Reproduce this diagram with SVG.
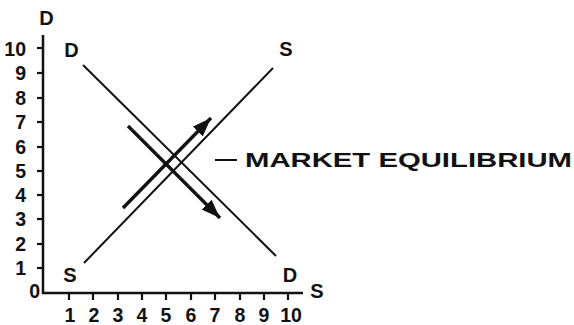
<svg xmlns="http://www.w3.org/2000/svg" width="574" height="325" viewBox="0 0 574 325">
<style>
.t{font-family:"Liberation Sans",Arial,sans-serif;font-weight:bold;fill:#111;font-size:20px}
.n{font-family:"Liberation Sans",Arial,sans-serif;font-weight:bold;fill:#111;font-size:19.5px}
.ax{stroke:#111;stroke-width:2.5;fill:none}
.tk{stroke:#111;stroke-width:2.2}
.ln{stroke:#111;stroke-width:2;fill:none}
.ar{stroke:#111;stroke-width:3.4;fill:none}
</style>
<defs>
<marker id="ah" markerUnits="userSpaceOnUse" markerWidth="22" markerHeight="16" refX="19" refY="7" orient="auto">
<path d="M0,0 L19,7 L0,14 Z" fill="#111"/>
</marker>
</defs>
<rect width="574" height="325" fill="#fff"/>
<g id="axes">
<path class="ax" d="M43,35 V293 H303"/>
<g class="tk">
<line x1="37" y1="48" x2="43" y2="48"/><line x1="37" y1="73" x2="43" y2="73"/>
<line x1="37" y1="98" x2="43" y2="98"/><line x1="37" y1="122" x2="43" y2="122"/>
<line x1="37" y1="147" x2="43" y2="147"/><line x1="37" y1="171" x2="43" y2="171"/>
<line x1="37" y1="195" x2="43" y2="195"/><line x1="37" y1="219" x2="43" y2="219"/>
<line x1="37" y1="244" x2="43" y2="244"/><line x1="37" y1="268" x2="43" y2="268"/>
<line x1="69" y1="293" x2="69" y2="300"/><line x1="93" y1="293" x2="93" y2="300"/>
<line x1="118" y1="293" x2="118" y2="300"/><line x1="142" y1="293" x2="142" y2="300"/>
<line x1="166" y1="293" x2="166" y2="300"/><line x1="191" y1="293" x2="191" y2="300"/>
<line x1="215" y1="293" x2="215" y2="300"/><line x1="240" y1="293" x2="240" y2="300"/>
<line x1="264" y1="293" x2="264" y2="300"/><line x1="288" y1="293" x2="288" y2="300"/>
</g>
<g class="n" text-anchor="end">
<text x="26" y="56">10</text><text x="26" y="80">9</text><text x="26" y="105">8</text>
<text x="26" y="129">7</text><text x="26" y="154">6</text><text x="26" y="178">5</text>
<text x="26" y="202">4</text><text x="26" y="226">3</text><text x="26" y="251">2</text>
<text x="26" y="275">1</text><text x="40" y="298">0</text>
</g>
<g class="n" text-anchor="middle">
<text x="70" y="322">1</text><text x="94" y="322">2</text><text x="118" y="322">3</text>
<text x="142" y="322">4</text><text x="166" y="322">5</text><text x="191" y="322">6</text>
<text x="215" y="322">7</text><text x="240" y="322">8</text><text x="264" y="322">9</text>
<text x="291" y="322">10</text>
</g>
<text class="t" x="46.5" y="25" text-anchor="middle">D</text>
<text class="t" x="317" y="298" text-anchor="middle">S</text>
</g>
<g id="demand">
<line class="ln" x1="83" y1="65" x2="276" y2="256"/>
<text class="t" x="71.5" y="57" text-anchor="middle">D</text>
<text class="t" x="290" y="282" text-anchor="middle">D</text>
</g>
<g id="supply">
<line class="ln" x1="84" y1="263" x2="273" y2="68"/>
<text class="t" x="70" y="282" text-anchor="middle">S</text>
<text class="t" x="286" y="56" text-anchor="middle">S</text>
</g>
<g id="connectors">
<line class="ar" x1="123" y1="208" x2="211" y2="118" marker-end="url(#ah)"/>
<line class="ar" x1="128" y1="126" x2="220" y2="218" marker-end="url(#ah)"/>
</g>
<g id="equilibrium">
<line x1="215" y1="160" x2="237" y2="160" stroke="#111" stroke-width="2"/>
<text class="t" x="245" y="167" font-size="18.5" textLength="327" lengthAdjust="spacingAndGlyphs">MARKET EQUILIBRIUM</text>
</g>
</svg>
